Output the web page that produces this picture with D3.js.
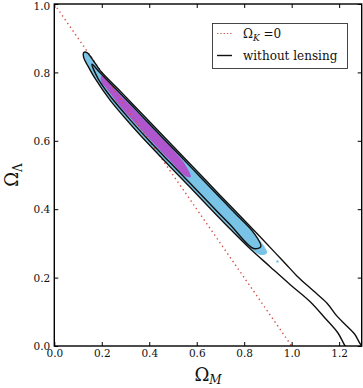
<!DOCTYPE html>
<html>
<head>
<meta charset="utf-8">
<script src="https://cdn.jsdelivr.net/npm/d3@7"></script>
<style>
  body { margin: 0; background: #fff; }
  svg { display: block; }
</style>
</head>
<body>
<div class="chart"></div>
<script>
// tick values
const xTicks = [0, 0.2, 0.4, 0.6, 0.8, 1.0, 1.2]
const yTicks = [0, 0.2, 0.4, 0.6, 0.8, 1.0]

// flat universe line, Omega_K = 0
const flatLine = [[0, 1], [1, 0]]

// without lensing, outer (2 sigma) contour, runs out of the frame at bottom right
const noLens2s = [
  [0.124, 0.858], [0.138, 0.858], [0.160, 0.839], [0.193, 0.806], [0.277, 0.746],
  [0.361, 0.685], [0.445, 0.624], [0.530, 0.563], [0.614, 0.502], [0.698, 0.441],
  [0.782, 0.381], [0.866, 0.320], [0.930, 0.273], [0.975, 0.240], [1.022, 0.205],
  [1.090, 0.162], [1.149, 0.125], [1.190, 0.088], [1.233, 0.058], [1.265, 0.035],
  [1.290, 0.005], [1.330, -0.030],
  [1.262, -0.035], [1.225, 0.0], [1.195, 0.038], [1.140, 0.082], [1.077, 0.130],
  [0.993, 0.180], [0.909, 0.232], [0.824, 0.285], [0.740, 0.343], [0.656, 0.403],
  [0.572, 0.464], [0.487, 0.525], [0.403, 0.586], [0.319, 0.650], [0.235, 0.719],
  [0.171, 0.783], [0.140, 0.821], [0.124, 0.843]
]

// without lensing, inner (1 sigma) contour
const noLens1s = [
  [0.159, 0.824], [0.193, 0.799], [0.277, 0.739], [0.361, 0.678], [0.445, 0.617],
  [0.530, 0.556], [0.614, 0.495], [0.698, 0.434], [0.782, 0.374], [0.840, 0.331],
  [0.870, 0.291], [0.840, 0.285], [0.740, 0.355], [0.656, 0.415], [0.572, 0.476],
  [0.487, 0.537], [0.403, 0.598], [0.319, 0.662], [0.235, 0.731], [0.185, 0.781]
]

// with lensing, 2 sigma region (filled blue)
const lens2s = [
  [0.125, 0.857], [0.138, 0.857], [0.160, 0.838], [0.193, 0.805], [0.277, 0.745],
  [0.361, 0.684], [0.445, 0.623], [0.530, 0.562], [0.614, 0.501], [0.698, 0.440],
  [0.782, 0.380], [0.850, 0.323], [0.896, 0.272], [0.870, 0.266], [0.824, 0.287],
  [0.740, 0.345], [0.656, 0.405], [0.572, 0.466], [0.487, 0.527], [0.403, 0.588],
  [0.319, 0.652], [0.235, 0.721], [0.171, 0.785], [0.141, 0.822], [0.126, 0.843]
]
const lensSpeck = [[0.940, 0.247]]

// with lensing, 1 sigma region (filled purple)
const lens1s = [
  [0.198, 0.790], [0.277, 0.735], [0.361, 0.674], [0.445, 0.613], [0.510, 0.566],
  [0.545, 0.537], [0.575, 0.494], [0.550, 0.498], [0.487, 0.543], [0.403, 0.604],
  [0.319, 0.668], [0.260, 0.716], [0.215, 0.757], [0.198, 0.772]
]

const legendNames = ["flat", "without lensing"]

let width = 363, height = 388
let plotLeft = 54.3, plotRight = 361.7, plotTop = 4, plotBottom = 346
let blue = "#78c3e6", purple = "#af55cd", lineColor = "#111", flatColor = "#d4504a"
let serif = "DejaVu Serif, Liberation Serif, serif"

let x = d3.scaleLinear().domain([0, 1.295]).range([plotLeft, plotRight])
let y = d3.scaleLinear().domain([0, 1]).range([plotBottom, plotTop])

let svg = d3.select(".chart")
    .append("svg")
    .attr("width", width)
    .attr("height", height)

svg.append("defs").append("clipPath")
    .attr("id", "plot-clip")
    .append("rect")
    .attr("x", plotLeft)
    .attr("y", plotTop)
    .attr("width", plotRight - plotLeft)
    .attr("height", plotBottom - plotTop)

let plot = svg.append("g").attr("clip-path", "url(#plot-clip)")

let closedLine = d3.line()
    .x(d => x(d[0]))
    .y(d => y(d[1]))
    .curve(d3.curveCatmullRomClosed.alpha(0.5))

//filled contours (with lensing)
plot.append("path")
    .datum(lens2s)
    .attr("d", closedLine)
    .attr("fill", blue)
plot.selectAll(".speck")
    .data(lensSpeck)
    .enter()
    .append("circle")
    .attr("class", "speck")
    .attr("cx", d => x(d[0]))
    .attr("cy", d => y(d[1]))
    .attr("r", 1.2)
    .attr("fill", blue)
plot.append("path")
    .datum(lens1s)
    .attr("d", closedLine)
    .attr("fill", purple)

//flat line
plot.append("path")
    .datum(flatLine)
    .attr("d", d3.line().x(d => x(d[0])).y(d => y(d[1])))
    .attr("fill", "none")
    .attr("stroke", flatColor)
    .attr("stroke-width", 1.4)
    .attr("stroke-dasharray", "1.4,3.2")

//contour lines (without lensing)
plot.selectAll(".nolens")
    .data([noLens2s, noLens1s])
    .enter()
    .append("path")
    .attr("class", "nolens")
    .attr("d", closedLine)
    .attr("fill", "none")
    .attr("stroke", lineColor)
    .attr("stroke-width", 1.4)

//axes, ticks point inward on all four sides
let fmt = d3.format(".1f")
let xAxis = svg.append("g")
    .attr("transform", `translate(0,${plotBottom})`)
    .call(d3.axisBottom(x).tickValues(xTicks).tickSize(-4).tickSizeOuter(0).tickPadding(4).tickFormat(fmt))
let yAxis = svg.append("g")
    .attr("transform", `translate(${plotLeft},0)`)
    .call(d3.axisLeft(y).tickValues(yTicks).tickSize(-4).tickSizeOuter(0).tickPadding(4).tickFormat(fmt))
let topAxis = svg.append("g")
    .attr("transform", `translate(0,${plotTop})`)
    .call(d3.axisTop(x).tickValues(xTicks).tickSize(-4).tickSizeOuter(0).tickFormat(""))
let rightAxis = svg.append("g")
    .attr("transform", `translate(${plotRight},0)`)
    .call(d3.axisRight(y).tickValues(yTicks).tickSize(-4).tickSizeOuter(0).tickFormat(""))

;[xAxis, yAxis, topAxis, rightAxis].forEach(g => {
    g.select(".domain").remove()
    g.selectAll("line").attr("stroke", "#000")
    g.selectAll("text")
        .attr("font-family", serif)
        .attr("font-size", 10.5)
        .attr("fill", "#111")
})
// top label sits against the page edge, nudge it down a little
yAxis.selectAll("text").attr("dy", d => d == 1 ? "0.5em" : "0.36em")

svg.append("rect")
    .attr("x", plotLeft)
    .attr("y", plotTop)
    .attr("width", plotRight - plotLeft)
    .attr("height", plotBottom - plotTop)
    .attr("fill", "none")
    .attr("stroke", "#000")
    .attr("stroke-width", 1.4)

//axis labels
let xLabel = svg.append("text")
    .attr("x", (plotLeft + plotRight) / 2)
    .attr("y", 381)
    .attr("text-anchor", "middle")
    .attr("font-family", serif)
    .attr("fill", "#111")
xLabel.append("tspan").attr("font-size", 18).text("Ω")
xLabel.append("tspan").attr("font-size", 12).attr("font-style", "italic").attr("dy", 3).text("M")

let yLabel = svg.append("text")
    .attr("transform", `translate(18,${(plotTop + plotBottom) / 2}) rotate(-90)`)
    .attr("text-anchor", "middle")
    .attr("font-family", serif)
    .attr("fill", "#111")
yLabel.append("tspan").attr("font-size", 18).text("Ω")
yLabel.append("tspan").attr("font-size", 12).attr("dy", 4).text("Λ")

//legend
let legend = svg.append("g")
legend.append("rect")
    .attr("x", 212.5)
    .attr("y", 23.5)
    .attr("width", 135)
    .attr("height", 45)
    .attr("fill", "#fff")
    .attr("stroke", "#333")
    .attr("stroke-width", 0.9)
legend.selectAll(".sample")
    .data(legendNames)
    .enter()
    .append("line")
    .attr("class", "sample")
    .attr("x1", 217)
    .attr("x2", 232)
    .attr("y1", (d, i) => 33.5 + 22 * i)
    .attr("y2", (d, i) => 33.5 + 22 * i)
    .attr("stroke", (d, i) => i == 0 ? flatColor : lineColor)
    .attr("stroke-width", (d, i) => i == 0 ? 1.2 : 1.4)
    .attr("stroke-dasharray", (d, i) => i == 0 ? "1.3,2" : null)
let flatText = legend.append("text")
    .attr("x", 243)
    .attr("y", 37.5)
    .attr("font-family", serif)
    .attr("font-size", 12)
    .attr("fill", "#111")
flatText.append("tspan").text("Ω")
flatText.append("tspan").attr("font-size", 9).attr("font-style", "italic").attr("dy", 3).text("K")
flatText.append("tspan").attr("dy", -3).text(" =0")
legend.append("text")
    .attr("x", 243)
    .attr("y", 59.5)
    .attr("font-family", serif)
    .attr("font-size", 12)
    .attr("fill", "#111")
    .text(legendNames[1])
</script>
</body>
</html>
